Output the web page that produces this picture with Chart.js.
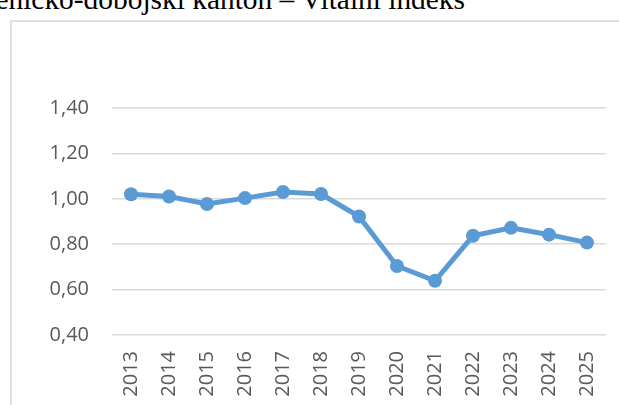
<!DOCTYPE html>
<html>
<head>
<meta charset="utf-8">
<script src="https://cdn.jsdelivr.net/npm/chart.js@4"></script>
<style>
  html, body { margin: 0; padding: 0; background: #fff; overflow: hidden; }
  body { width: 619px; height: 405px; position: relative; }
  .naslov {
    position: absolute; left: -535px; width: 1000px; top: -15px; text-align: right;
    font-family: "Liberation Serif", serif; font-size: 29.4px; line-height: 29.4px;
    white-space: nowrap; color: #000;
  }
  .okvir {
    position: absolute; left: 10px; top: 20px; width: 700px; height: 500px;
    border: 2px solid #e0e0e0; box-sizing: border-box;
  }
  canvas { position: absolute; left: 0; top: 0; }
</style>
</head>
<body>
<div class="naslov">Zeničko-dobojski kanton – Vitalni indeks</div>
<div class="okvir"></div>
<canvas class="grafico" width="619" height="405"></canvas>
<script>
const godine = ['2013', '2014', '2015', '2016', '2017', '2018', '2019', '2020', '2021', '2022', '2023', '2024', '2025'];
const vitalniIndeks = [1.02, 1.01, 0.977, 1.003, 1.03, 1.021, 0.922, 0.704, 0.639, 0.837, 0.872, 0.842, 0.807];
const yMin = 0.4;
const yMax = 1.4;
const yKorak = 0.2;

const canvas = document.querySelector('.grafico');
const tekst = { family: '"Open Sans", sans-serif', size: 20 };

const config = {
    type: 'line',
    data: {
        labels: godine,
        datasets: [{
            data: vitalniIndeks,
            borderColor: '#5b9bd5',
            backgroundColor: '#5b9bd5',
            borderWidth: 5,
            pointRadius: 7,
            pointBorderWidth: 0,
            pointBackgroundColor: '#5b9bd5',
            tension: 0
        }]
    },
    options: {
        responsive: false,
        animation: false,
        layout: { padding: { left: 0, top: 108, right: 13, bottom: 0 } },
        plugins: { legend: { display: false }, tooltip: { enabled: false } },
        scales: {
            x: {
                offset: true,
                grid: { display: false, drawTicks: false },
                border: { display: false },
                ticks: { color: '#595959', font: tekst, minRotation: 90, maxRotation: 90, padding: 16, autoSkip: false },
                afterFit: (s) => { s.height = 70; s.paddingLeft = 0; s.paddingRight = 0; }
            },
            y: {
                min: yMin,
                max: yMax,
                grid: { color: '#d9d9d9', lineWidth: 1.5, drawTicks: false },
                border: { display: false },
                ticks: {
                    stepSize: yKorak,
                    color: '#595959',
                    font: tekst,
                    padding: 23,
                    callback: (v) => v.toFixed(2).replace('.', ',')
                },
                afterFit: (s) => { s.width = 112; s.paddingTop = 0; s.paddingBottom = 0; }
            }
        }
    }
};

new Chart(canvas, config);
</script>
</body>
</html>
